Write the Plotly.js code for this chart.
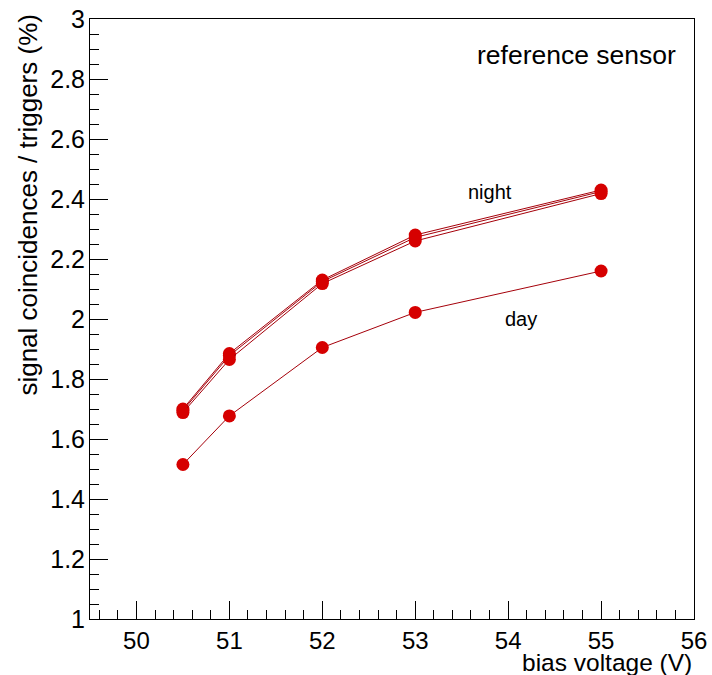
<!DOCTYPE html>
<html>
<head>
<meta charset="utf-8">
<script src="https://cdn.plot.ly/plotly-3.0.1.min.js"></script>
<style>
  html, body { margin: 0; padding: 0; background: #ffffff; }
  #chart { width: 712px; height: 675px; }
</style>
</head>
<body>
<div id="chart"></div>
<script>
// Bias voltage scan points (V)
const biasVoltage = [50.5, 51, 52, 53, 55];

// Signal coincidences / triggers (%), night-time runs
const night1 = [1.700, 1.885, 2.130, 2.280, 2.430];
const night2 = [1.695, 1.878, 2.125, 2.272, 2.425];
const night3 = [1.688, 1.865, 2.118, 2.260, 2.418];

// Signal coincidences / triggers (%), day-time run
const day1 = [1.515, 1.677, 1.905, 2.022, 2.160];

const runs = [night1, night2, night3, day1];

const FONT = "'Liberation Sans', Arial, Helvetica, sans-serif";
const markerRed = 'rgb(214,0,0)';
const lineRed = 'rgb(165,0,10)';

const traces = runs.map(vals => ({
  x: biasVoltage,
  y: vals,
  type: 'scatter',
  mode: 'lines+markers',
  line: { color: lineRed, width: 1 },
  marker: { color: markerRed, size: 13, line: { width: 0 } },
  hoverinfo: 'x+y',
  showlegend: false
}));

const axisCommon = {
  showgrid: false,
  zeroline: false,
  showline: true,
  linecolor: '#000000',
  linewidth: 1,
  mirror: true,
  ticks: 'inside',
  ticklen: 18,
  tickwidth: 1,
  tickcolor: '#000000',
  tickfont: { family: FONT, size: 25, color: '#000000' }
};

const layout = {
  width: 712,
  height: 675,
  margin: { l: 90, r: 18, t: 19, b: 56 },
  paper_bgcolor: '#ffffff',
  plot_bgcolor: '#ffffff',
  font: { family: FONT, color: '#000000' },
  xaxis: Object.assign({}, axisCommon, {
    range: [49.5, 56],
    tick0: 50,
    dtick: 1,
    tickfont: { family: FONT, size: 24, color: '#000000' },
    minor: { dtick: 0.2, tick0: 50, ticks: 'inside', ticklen: 9, tickcolor: '#000000', showgrid: false }
  }),
  yaxis: Object.assign({}, axisCommon, {
    range: [1, 3],
    tick0: 1,
    dtick: 0.2,
    ticklabelstandoff: -1,
    minor: { dtick: 0.05, tick0: 1, ticks: 'inside', ticklen: 9, tickcolor: '#000000', showgrid: false }
  }),
  annotations: [
    {
      text: 'bias voltage (V)',
      xref: 'paper', yref: 'paper',
      x: 1.0, y: -0.073,
      xanchor: 'right', yanchor: 'middle',
      showarrow: false,
      font: { family: FONT, size: 24.5, color: '#000000' }
    },
    {
      text: 'signal coincidences / triggers (%)',
      xref: 'paper', yref: 'paper',
      x: -0.103, y: 1.012,
      xanchor: 'center', yanchor: 'top',
      textangle: -90,
      showarrow: false,
      font: { family: FONT, size: 26, color: '#000000' }
    },
    {
      text: 'reference sensor',
      xref: 'paper', yref: 'paper',
      x: 0.805, y: 0.94,
      xanchor: 'center', yanchor: 'middle',
      showarrow: false,
      font: { family: FONT, size: 26.5, color: '#000000' }
    },
    {
      text: 'night',
      xref: 'x', yref: 'y',
      x: 53.8, y: 2.425,
      xanchor: 'center', yanchor: 'middle',
      showarrow: false,
      font: { family: FONT, size: 20, color: '#000000' }
    },
    {
      text: 'day',
      xref: 'x', yref: 'y',
      x: 54.14, y: 2.0,
      xanchor: 'center', yanchor: 'middle',
      showarrow: false,
      font: { family: FONT, size: 20, color: '#000000' }
    }
  ]
};

Plotly.newPlot('chart', traces, layout, { displayModeBar: false, staticPlot: true });
</script>
</body>
</html>
